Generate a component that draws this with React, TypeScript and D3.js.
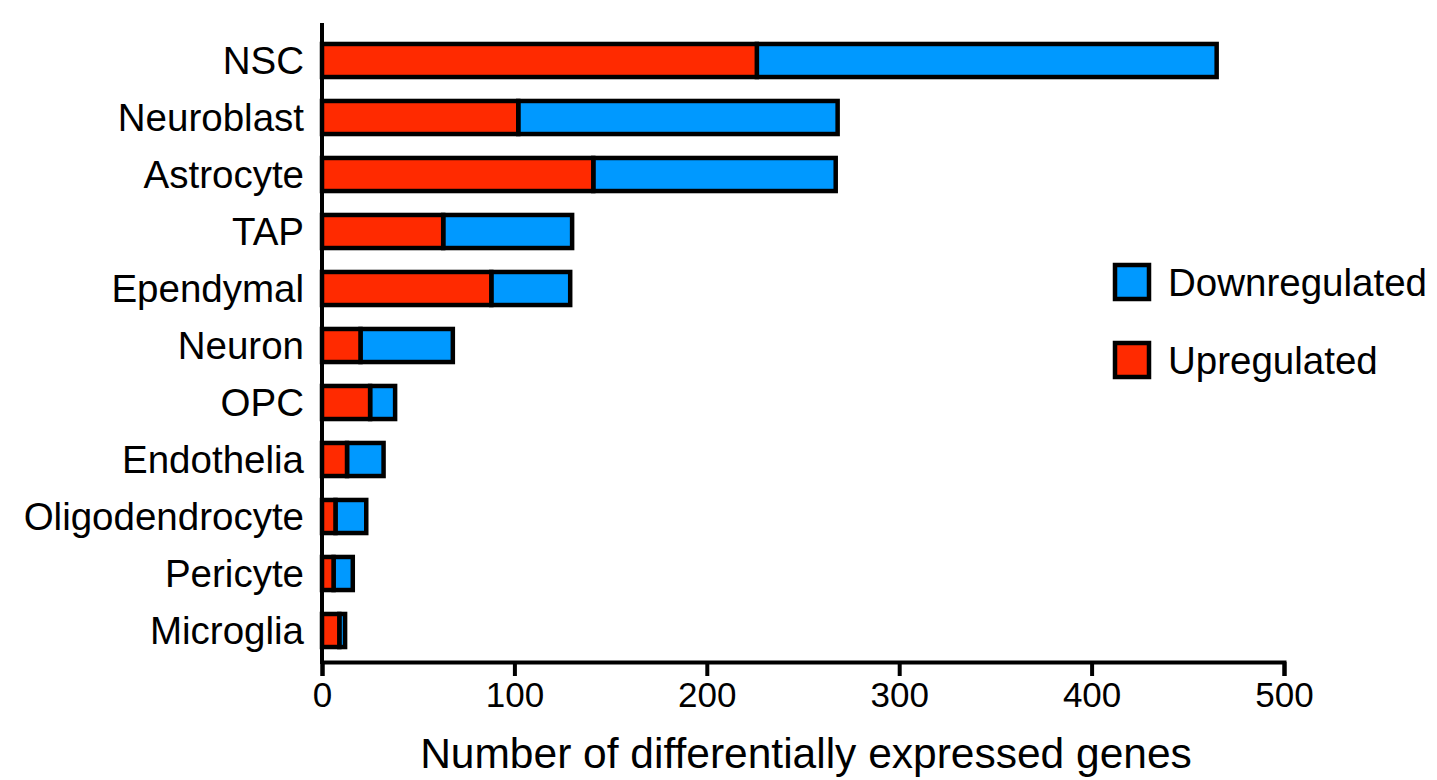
import React, { useEffect, useRef } from 'react';
import * as d3 from 'd3';

const cellTypes = [
  'NSC',
  'Neuroblast',
  'Astrocyte',
  'TAP',
  'Ependymal',
  'Neuron',
  'OPC',
  'Endothelia',
  'Oligodendrocyte',
  'Pericyte',
  'Microglia',
];
const upregulated = [226, 102, 141, 63, 88, 20, 25, 13, 7, 6, 9];
const downregulated = [239, 166, 126, 67, 41, 48, 13, 19, 16, 10, 3];
const xTicks = [0, 100, 200, 300, 400, 500];
const seriesNames = ['Downregulated', 'Upregulated'];

const COL = { up: '#ff2a00', down: '#0099ff', ink: '#000' };
const FONT = '"Liberation Sans", Arial, sans-serif';
const W = 1437;
const H = 780;

export default function App() {
  const ref = useRef<SVGSVGElement | null>(null);

  useEffect(() => {
    const svg = d3.select(ref.current);
    svg.selectAll('*').remove();

    const x = d3.scaleLinear().domain([0, 500]).range([322, 1284]);
    const y = d3
      .scaleBand<string>()
      .domain(cellTypes)
      .range([32, 659])
      .paddingInner(0.42)
      .paddingOuter(0.21);

    const rows = cellTypes.map((name, i) => ({
      name,
      up: upregulated[i],
      down: downregulated[i],
    }));

    // bars: red segment from 0, blue stacked on top
    const g = svg.append('g');
    g.selectAll('rect.down')
      .data(rows)
      .join('rect')
      .attr('class', 'down')
      .attr('x', (d) => x(d.up))
      .attr('width', (d) => x(d.up + d.down) - x(d.up))
      .attr('y', (d) => y(d.name)!)
      .attr('height', y.bandwidth())
      .attr('fill', COL.down)
      .attr('stroke', COL.ink)
      .attr('stroke-width', 4.5);
    g.selectAll('rect.up')
      .data(rows)
      .join('rect')
      .attr('class', 'up')
      .attr('x', x(0))
      .attr('width', (d) => x(d.up) - x(0))
      .attr('y', (d) => y(d.name)!)
      .attr('height', y.bandwidth())
      .attr('fill', COL.up)
      .attr('stroke', COL.ink)
      .attr('stroke-width', 4.5);

    // category labels
    svg.append('g')
      .selectAll('text')
      .data(cellTypes)
      .join('text')
      .attr('x', 304)
      .attr('y', (d) => y(d)! + y.bandwidth() / 2)
      .attr('dy', '0.36em')
      .attr('text-anchor', 'end')
      .attr('font-family', FONT)
      .attr('font-size', 38.5)
      .attr('fill', COL.ink)
      .text((d) => d);

    // y axis line
    svg.append('line')
      .attr('x1', x(0))
      .attr('x2', x(0))
      .attr('y1', 23)
      .attr('y2', 664)
      .attr('stroke', COL.ink)
      .attr('stroke-width', 4);

    // x axis
    const xAxis = svg
      .append('g')
      .attr('transform', 'translate(0,662)')
      .call(d3.axisBottom(x).tickValues(xTicks).tickSize(14).tickSizeOuter(14).tickPadding(6));
    xAxis.select('.domain').attr('stroke-width', 4);
    xAxis.selectAll('.tick line').attr('stroke-width', 4);
    xAxis.selectAll('.tick text')
      .attr('font-family', FONT)
      .attr('font-size', 35)
      .attr('fill', COL.ink);

    svg.append('text')
      .attr('x', (x(0) + x(500)) / 2 + 3)
      .attr('y', 768)
      .attr('text-anchor', 'middle')
      .attr('font-family', FONT)
      .attr('font-size', 42.5)
      .attr('fill', COL.ink)
      .text('Number of differentially expressed genes');

    // legend
    const legend = svg
      .append('g')
      .selectAll('g')
      .data(seriesNames)
      .join('g')
      .attr('transform', (_, i) => `translate(1115,${265 + i * 78})`);
    legend
      .append('rect')
      .attr('width', 34)
      .attr('height', 34)
      .attr('fill', (d) => (d === 'Downregulated' ? COL.down : COL.up))
      .attr('stroke', COL.ink)
      .attr('stroke-width', 4.5);
    legend
      .append('text')
      .attr('x', 53)
      .attr('y', 17)
      .attr('dy', '0.36em')
      .attr('font-family', FONT)
      .attr('font-size', 38.5)
      .attr('fill', COL.ink)
      .text((d) => d);
  }, []);

  return (
    <div style={{ position: 'absolute', left: 0, top: 0 }}>
      <svg ref={ref} width={W} height={H} style={{ display: 'block', background: '#fff' }} />
    </div>
  );
}
